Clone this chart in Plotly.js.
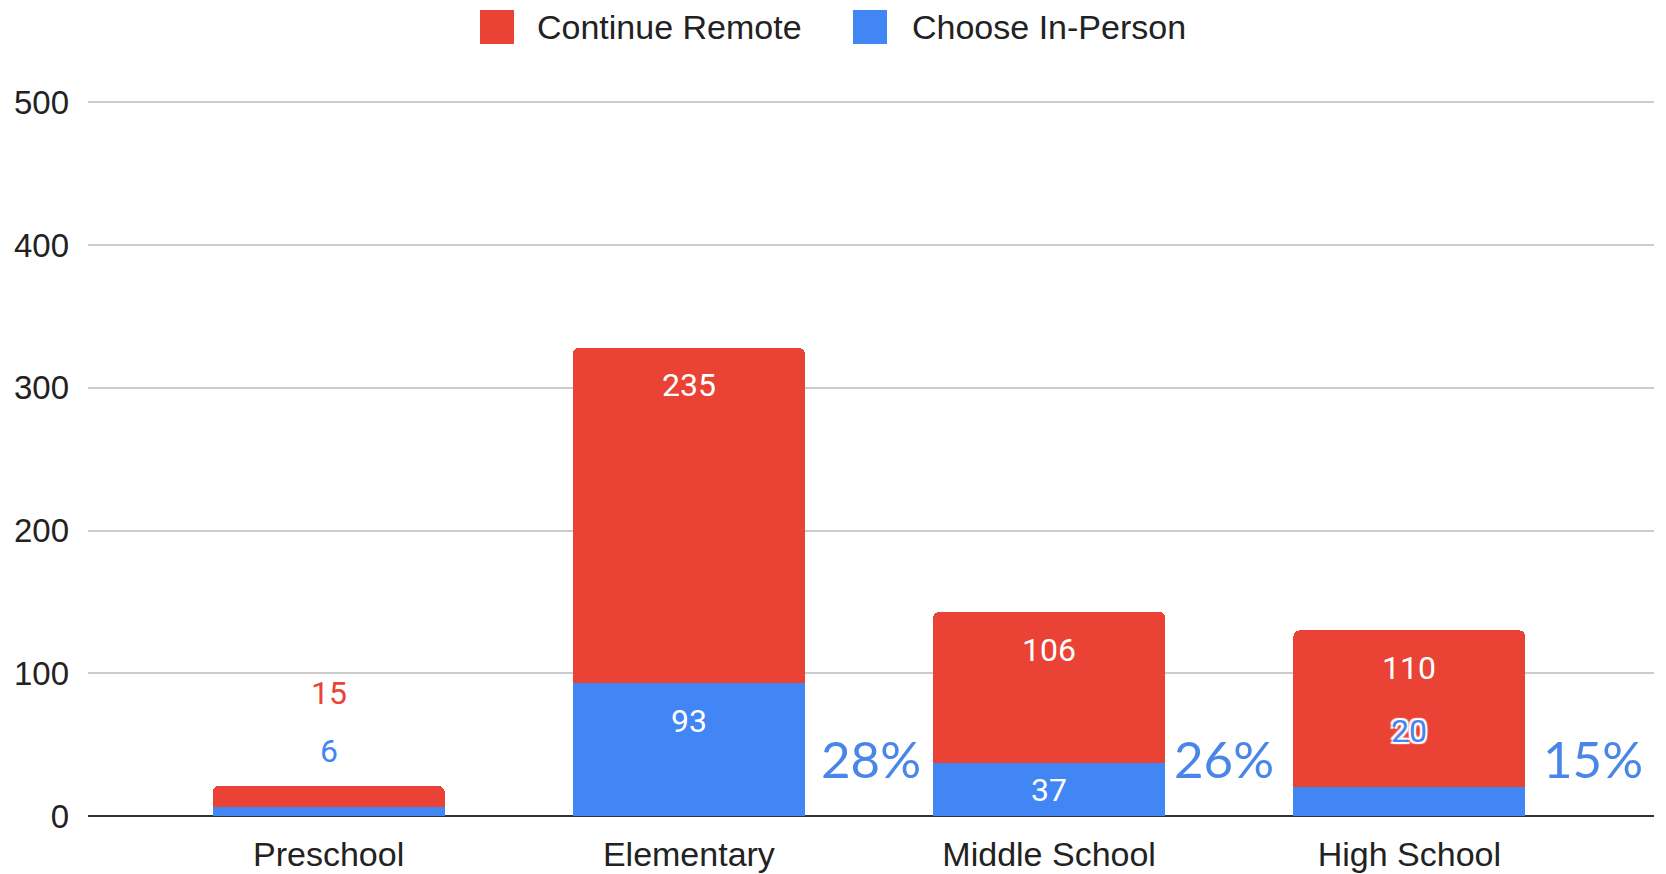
<!DOCTYPE html>
<html>
<head>
<meta charset="utf-8">
<script src="https://cdn.plot.ly/plotly-3.0.1.min.js"></script>
<style>html,body{margin:0;padding:0;background:#fff;}#chart{width:1666px;height:874px;}</style>
</head>
<body>
<div id="chart"></div>
<script>
// ---- data ----
const categories = ['Preschool', 'Elementary', 'Middle School', 'High School'];
const inPerson = [6, 93, 37, 20];
const remote = [15, 235, 106, 110];
const seriesNames = ['Continue Remote', 'Choose In-Person'];
const yTicks = [0, 100, 200, 300, 400, 500];

// ---- styles ----
const RED = '#ea4335', BLUE = '#4285f4', PCT = '#4a86e8';
const W = 1666, H = 874;
const M = {l: 88, r: 12, t: 101, b: 58};
const labelFont = 'Roboto, Arial, sans-serif';
const axisFont = '"Liberation Sans", Arial, sans-serif';

// label placement: [mode, pixel shift]
const inPersonPlace = [['aboveTotal', 35], ['insideTop', -38], ['center', 0], ['aboveSeg', 56]];
const remotePlace = [['aboveTotal', 93], ['insideTop', -37], ['insideTop', -38], ['insideTop', -38]];
const inPersonColor = [BLUE, '#fff', '#fff', BLUE];
const remoteColor = [RED, '#fff', '#fff', '#fff'];
const pctOffset = [0, 0.505, 0.485, 0.51];

const totals = categories.map((c, i) => inPerson[i] + remote[i]);

const traces = [
  {type: 'bar', name: seriesNames[1], x: categories, y: inPerson,
   marker: {color: BLUE}, hoverinfo: 'x+y', showlegend: false},
  {type: 'bar', name: seriesNames[0], x: categories, y: remote,
   marker: {color: RED, cornerradius: 6}, hoverinfo: 'x+y', showlegend: false}
];

const annotations = [];
function placeY(mode, i, segTop, segBottom) {
  if (mode === 'aboveTotal') return totals[i];
  if (mode === 'insideTop') return segTop;
  if (mode === 'aboveSeg') return segTop;
  return (segTop + segBottom) / 2;
}
categories.forEach((c, i) => {
  const p1 = inPersonPlace[i];
  const ip = {x: i, y: placeY(p1[0], i, inPerson[i], 0), xref: 'x', yref: 'y',
    text: String(inPerson[i]), showarrow: false, yshift: p1[1], yanchor: 'middle',
    font: {family: labelFont, size: 32, color: inPersonColor[i]}};
  if (i === 3) ip.font.shadow = '2px 2px 1px #fff, -2px -2px 1px #fff, 2px -2px 1px #fff, -2px 2px 1px #fff';
  annotations.push(ip);
  const p2 = remotePlace[i];
  annotations.push({x: i, y: placeY(p2[0], i, totals[i], inPerson[i]), xref: 'x', yref: 'y',
    text: String(remote[i]), showarrow: false, yshift: p2[1], yanchor: 'middle',
    font: {family: labelFont, size: 32, color: remoteColor[i]}});
});
// percentage annotations for in-person share
for (let i = 1; i < categories.length; i++) {
  const pct = Math.round(100 * inPerson[i] / totals[i]) + '%';
  annotations.push({x: i + pctOffset[i], y: 40, xref: 'x', yref: 'y', text: pct, showarrow: false,
    xanchor: 'center', yanchor: 'middle',
    font: {family: 'Lato, "Open Sans", sans-serif', size: 51, color: PCT}});
}

// manual legend
const pw = W - M.l - M.r, ph = H - M.t - M.b;
const px2x = px => (px - M.l) / pw;
const py2y = py => (H - M.b - py) / ph;
const legendY = py2y(27);
const legendItems = [
  {name: seriesNames[0], color: RED, sq: 497, tx: 535},
  {name: seriesNames[1], color: BLUE, sq: 870, tx: 910}
];
const shapes = [];
legendItems.forEach(it => {
  shapes.push({type: 'rect', xref: 'paper', yref: 'paper', xsizemode: 'pixel', ysizemode: 'pixel',
    xanchor: px2x(it.sq), yanchor: legendY, x0: -17, x1: 17, y0: -17, y1: 17,
    fillcolor: it.color, line: {width: 0}});
  annotations.push({xref: 'paper', yref: 'paper', x: px2x(it.tx), y: legendY, xanchor: 'left',
    yanchor: 'middle', text: it.name, showarrow: false,
    font: {family: axisFont, size: 34, color: '#222'}});
});

const layout = {
  width: W, height: H,
  margin: M,
  paper_bgcolor: '#fff', plot_bgcolor: '#fff',
  barmode: 'stack', bargap: 0.356,
  showlegend: false,
  xaxis: {type: 'category', range: [-0.668, 3.679], showgrid: false, zeroline: false,
    showline: false, ticks: '', ticklabelstandoff: 15,
    tickfont: {family: axisFont, size: 34, color: '#222'}},
  yaxis: {range: [0, 501], tickvals: yTicks, ticktext: yTicks.map(String),
    showgrid: true, gridcolor: '#cccccc', gridwidth: 2,
    zeroline: true, zerolinecolor: '#333333', zerolinewidth: 2,
    showline: false, ticks: '', ticklabelstandoff: 18,
    tickfont: {family: axisFont, size: 33, color: '#222'}},
  annotations: annotations,
  shapes: shapes
};

Plotly.newPlot('chart', traces, layout, {displayModeBar: false, staticPlot: true});
</script>
</body>
</html>
